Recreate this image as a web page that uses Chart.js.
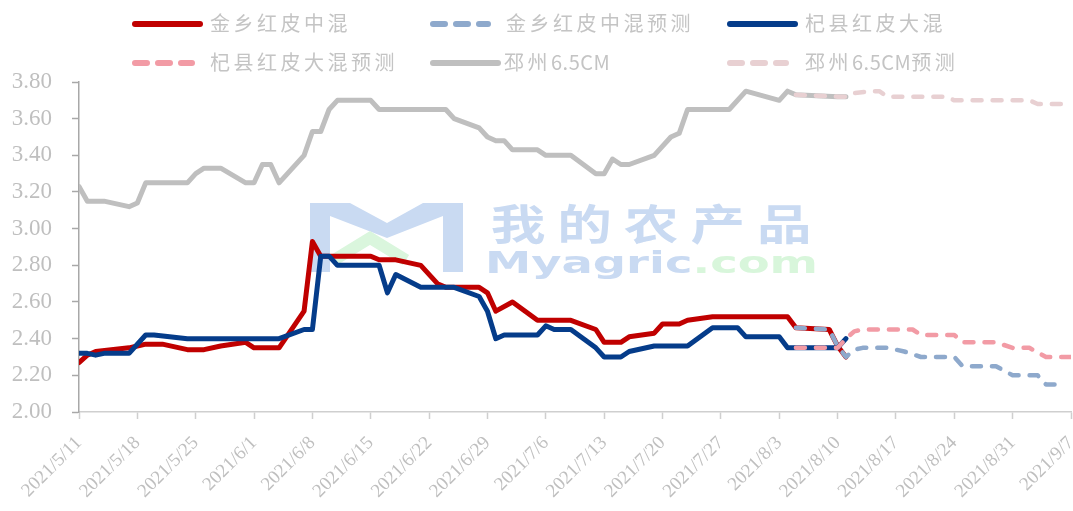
<!DOCTYPE html>
<html><head><meta charset="utf-8">
<script src="https://cdn.jsdelivr.net/npm/chart.js@4"></script>
<style>
html,body{margin:0;padding:0;background:#fff;}
#wrap{position:relative;width:1073px;height:511px;overflow:hidden;}
#c{position:absolute;left:0;top:0;}
.lgt{position:absolute;font-family:"Noto Sans CJK SC","Noto Sans",sans-serif;font-size:20px;line-height:20px;color:#c4c4c4;letter-spacing:3.5px;white-space:nowrap;}
.lgt .lat{letter-spacing:0.5px;}
.lgs{position:absolute;}
</style></head>
<body><div id="wrap"><canvas id="c" width="1073" height="511"></canvas></div>
<script>
// ---- categories / tick labels ----
const startDate = '2021/5/11';
const tickLabels = ['2021/5/11','2021/5/18','2021/5/25','2021/6/1','2021/6/8','2021/6/15','2021/6/22','2021/6/29','2021/7/6','2021/7/13','2021/7/20','2021/7/27','2021/8/3','2021/8/10','2021/8/17','2021/8/24','2021/8/31','2021/9/7'];
const seriesNames = ['金乡红皮中混','金乡红皮中混预测','杞县红皮大混','杞县红皮大混预测','邳州6.5CM','邳州6.5CM预测'];

// ---- 金乡红皮中混 ----
const jxDates = ['2021/5/11','2021/5/12','2021/5/13','2021/5/17','2021/5/18','2021/5/19','2021/5/21','2021/5/24','2021/5/26','2021/5/28','2021/5/31','2021/6/1','2021/6/4','2021/6/7','2021/6/8','2021/6/9','2021/6/15','2021/6/16','2021/6/18','2021/6/21','2021/6/23','2021/6/24','2021/6/28','2021/6/29','2021/6/30','2021/7/2','2021/7/5','2021/7/9','2021/7/12','2021/7/13','2021/7/15','2021/7/16','2021/7/19','2021/7/20','2021/7/22','2021/7/23','2021/7/26','2021/8/4','2021/8/5','2021/8/9','2021/8/10','2021/8/11'];
const jxValues = [2.27,2.31,2.33,2.35,2.36,2.37,2.37,2.34,2.34,2.36,2.38,2.35,2.35,2.55,2.93,2.85,2.85,2.83,2.83,2.80,2.70,2.68,2.68,2.65,2.55,2.60,2.50,2.50,2.45,2.38,2.38,2.41,2.43,2.48,2.48,2.50,2.52,2.52,2.46,2.45,2.36,2.30];

// ---- 金乡红皮中混预测 ----
const jxfDates = ['2021/8/5','2021/8/9','2021/8/10','2021/8/11','2021/8/12','2021/8/13','2021/8/16','2021/8/18','2021/8/20','2021/8/24','2021/8/25','2021/8/29','2021/8/31','2021/9/3','2021/9/4','2021/9/6'];
const jxfValues = [2.46,2.45,2.36,2.30,2.34,2.35,2.35,2.33,2.30,2.30,2.25,2.25,2.20,2.20,2.15,2.15];

// ---- 杞县红皮大混 ----
const qxDates = ['2021/5/11','2021/5/12','2021/5/13','2021/5/14','2021/5/17','2021/5/19','2021/5/20','2021/5/24','2021/6/4','2021/6/7','2021/6/8','2021/6/9','2021/6/10','2021/6/11','2021/6/16','2021/6/17','2021/6/18','2021/6/21','2021/6/25','2021/6/28','2021/6/29','2021/6/30','2021/7/1','2021/7/5','2021/7/6','2021/7/7','2021/7/9','2021/7/12','2021/7/13','2021/7/15','2021/7/16','2021/7/19','2021/7/23','2021/7/26','2021/7/29','2021/7/30','2021/8/3','2021/8/4','2021/8/10','2021/8/11'];
const qxValues = [2.32,2.32,2.31,2.32,2.32,2.42,2.42,2.40,2.40,2.45,2.45,2.85,2.85,2.80,2.80,2.65,2.75,2.68,2.68,2.63,2.55,2.40,2.42,2.42,2.47,2.45,2.45,2.35,2.30,2.30,2.33,2.36,2.36,2.46,2.46,2.41,2.41,2.35,2.35,2.40];

// ---- 杞县红皮大混预测 ----
const qxfDates = ['2021/8/5','2021/8/10','2021/8/11','2021/8/12','2021/8/13','2021/8/19','2021/8/20','2021/8/24','2021/8/25','2021/8/29','2021/8/31','2021/9/2','2021/9/4','2021/9/7'];
const qxfValues = [2.35,2.35,2.40,2.44,2.45,2.45,2.42,2.42,2.38,2.38,2.35,2.35,2.30,2.30];

// ---- 邳州6.5CM ----
const pzDates = ['2021/5/11','2021/5/12','2021/5/14','2021/5/17','2021/5/18','2021/5/19','2021/5/24','2021/5/25','2021/5/26','2021/5/28','2021/5/31','2021/6/1','2021/6/2','2021/6/3','2021/6/4','2021/6/7','2021/6/8','2021/6/9','2021/6/10','2021/6/11','2021/6/15','2021/6/16','2021/6/24','2021/6/25','2021/6/28','2021/6/29','2021/6/30','2021/7/1','2021/7/2','2021/7/5','2021/7/6','2021/7/9','2021/7/12','2021/7/13','2021/7/14','2021/7/15','2021/7/16','2021/7/19','2021/7/21','2021/7/22','2021/7/23','2021/7/28','2021/7/30','2021/8/3','2021/8/4','2021/8/5','2021/8/10','2021/8/11'];
const pzValues = [3.23,3.15,3.15,3.12,3.14,3.25,3.25,3.30,3.33,3.33,3.25,3.25,3.35,3.35,3.25,3.40,3.53,3.53,3.65,3.70,3.70,3.65,3.65,3.60,3.55,3.50,3.48,3.48,3.43,3.43,3.40,3.40,3.30,3.30,3.38,3.35,3.35,3.40,3.50,3.52,3.65,3.65,3.75,3.70,3.75,3.73,3.72,3.72];

// ---- 邳州6.5CM预测 ----
const pzfDates = ['2021/8/5','2021/8/10','2021/8/11','2021/8/12','2021/8/14','2021/8/15','2021/8/16','2021/8/23','2021/8/24','2021/9/2','2021/9/3','2021/9/7'];
const pzfValues = [3.73,3.72,3.72,3.74,3.75,3.75,3.72,3.72,3.70,3.70,3.68,3.68];

// ---- helpers ----
function dayIndex(s){
  const a = s.split('/').map(Number), b = startDate.split('/').map(Number);
  return Math.round((Date.UTC(a[0],a[1]-1,a[2]) - Date.UTC(b[0],b[1]-1,b[2])) / 86400000);
}
const toXY = (dates, vals) => dates.map((d,i) => ({x: dayIndex(d), y: vals[i]}));

const seriesData = [
  toXY(jxDates, jxValues), toXY(jxfDates, jxfValues),
  toXY(qxDates, qxValues), toXY(qxfDates, qxfValues),
  toXY(pzDates, pzValues), toXY(pzfDates, pzfValues)
];
const seriesStyle = [
  {color:'#C00000', dashed:false},
  {color:'#8EA9CC', dashed:true},
  {color:'#053C8A', dashed:false},
  {color:'#F29BA5', dashed:true},
  {color:'#BFBFBF', dashed:false},
  {color:'#E8D0D2', dashed:true}
];

const datasets = seriesNames.map((name, i) => ({
  label: name,
  data: seriesData[i],
  borderColor: seriesStyle[i].color,
  backgroundColor: seriesStyle[i].color,
  borderWidth: seriesStyle[i].dashed ? 4.5 : 5,
  borderDash: seriesStyle[i].dashed ? [9, 11] : [],
  borderCapStyle: 'round',
  borderJoinStyle: 'round',
  pointRadius: 0,
  tension: 0,
  fill: false,
  order: seriesNames.length - i
}));

// ---- watermark (background decoration) ----
const watermark = {
  id: 'watermark',
  beforeDatasetsDraw(chart) {
    const c = chart.ctx;
    c.save();
    c.fillStyle = '#C9DAF2';
    c.beginPath();
    c.moveTo(310,203); c.lineTo(350,203); c.lineTo(387,223); c.lineTo(423,203); c.lineTo(463,203);
    c.lineTo(463,272); c.lineTo(443,272); c.lineTo(443,216); c.lineTo(387,238); c.lineTo(330,216);
    c.lineTo(330,272); c.lineTo(310,272); c.closePath(); c.fill();
    c.strokeStyle = '#DAF6DD'; c.lineWidth = 12; c.lineJoin = 'miter';
    c.beginPath(); c.moveTo(334,260); c.lineTo(370,238); c.lineTo(406,260); c.stroke();
    c.fillStyle = '#C9DAF2';
    c.font = 'bold 42px "Noto Sans CJK SC"';
    c.textAlign = 'center'; c.textBaseline = 'middle';
    '我的农产品'.split('').forEach((ch, i) => {
      c.save();
      c.translate(518 + i * 66.6, 224);
      c.scale(1.3, 1);
      c.fillText(ch, 0, 0);
      c.restore();
    });
    c.font = 'bold 31px "DejaVu Sans"';
    c.textAlign = 'left'; c.textBaseline = 'alphabetic';
    const p1 = 'Myagric', p2 = '.com';
    const w1 = c.measureText(p1).width, w2 = c.measureText(p2).width;
    const sx = 333 / (w1 + w2);
    c.save();
    c.translate(485, 273);
    c.scale(sx, 1);
    c.fillStyle = '#C9DAF2'; c.fillText(p1, 0, 0);
    c.fillStyle = '#D8F6DB'; c.fillText(p2, w1, 0);
    c.restore();
    c.restore();
  }
};

new Chart(document.getElementById('c'), {
  type: 'line',
  data: { datasets },
  plugins: [watermark],
  options: {
    responsive: false,
    animation: false,
    layout: { padding: { top: 82, right: 2, left: 0, bottom: 0 } },
    plugins: { legend: { display: false }, tooltip: { enabled: false } },
    scales: {
      x: {
        type: 'linear', min: 0, max: 119,
        afterFit(s) { s.height = 99; s.paddingRight = 0; s.paddingLeft = 0; },
        border: { display: true, color: '#CFCFCF', width: 1.5 },
        grid: { drawOnChartArea: false, drawTicks: true, tickLength: 7, tickColor: '#CFCFCF', tickWidth: 1.5 },
        ticks: {
          stepSize: 7, autoSkip: false, minRotation: 45, maxRotation: 45, padding: 13,
          color: '#BFBFBF', font: { family: '"Liberation Serif"', size: 19 },
          callback: (v) => (v % 7 === 0 ? tickLabels[v / 7] : '')
        }
      },
      y: {
        min: 2, max: 3.8,
        afterFit(s) { s.width = 79; },
        border: { display: true, color: '#A8A8A8', width: 1.5 },
        grid: { drawOnChartArea: false, drawTicks: true, tickLength: 7, tickColor: '#A8A8A8', tickWidth: 1.5 },
        ticks: {
          stepSize: 0.2, padding: 20, color: '#BFBFBF',
          font: { family: '"Liberation Serif"', size: 23 },
          callback: (v) => Number(v).toFixed(2)
        }
      }
    }
  }
});

// ---- legend (HTML) ----
const legendPos = [
  {lx:132, lw:71, tx:210, cy:24},
  {lx:430, lw:61, tx:506, cy:24},
  {lx:727, lw:71, tx:805, cy:24},
  {lx:132, lw:63, tx:210, cy:63},
  {lx:430, lw:71, tx:504, cy:63},
  {lx:727, lw:62, tx:805, cy:63}
];
const wrap = document.getElementById('wrap');
seriesNames.forEach((name, i) => {
  const p = legendPos[i], st = seriesStyle[i];
  const svgNS = 'http://www.w3.org/2000/svg';
  const svg = document.createElementNS(svgNS, 'svg');
  svg.setAttribute('width', p.lw + 8); svg.setAttribute('height', 10);
  svg.setAttribute('class', 'lgs');
  svg.style.left = (p.lx - 4) + 'px'; svg.style.top = (p.cy - 5) + 'px';
  const ln = document.createElementNS(svgNS, 'line');
  ln.setAttribute('x1', 7); ln.setAttribute('x2', p.lw + 1);
  ln.setAttribute('y1', 5); ln.setAttribute('y2', 5);
  ln.setAttribute('stroke', st.color); ln.setAttribute('stroke-width', 6);
  ln.setAttribute('stroke-linecap', 'round');
  if (st.dashed) ln.setAttribute('stroke-dasharray', '12 11');
  svg.appendChild(ln);
  wrap.appendChild(svg);
  const t = document.createElement('div');
  t.className = 'lgt';
  t.style.left = p.tx + 'px'; t.style.top = (p.cy - 11) + 'px';
  t.innerHTML = name.replace(/([A-Za-z0-9.]+)/g, '<span class="lat">$1</span>');
  wrap.appendChild(t);
});
</script>
</body></html>
